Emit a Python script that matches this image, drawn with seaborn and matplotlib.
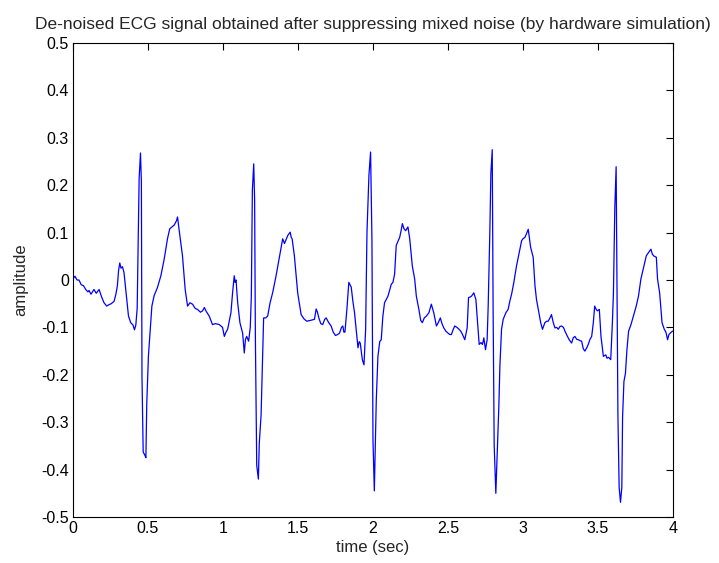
import numpy as np
import pandas as pd
import matplotlib
matplotlib.use("Agg")
import matplotlib.pyplot as plt
import seaborn as sns

# values (time in sec, amplitude)
time_sec = [
    0.000, 0.013, 0.027, 0.040, 0.055, 0.070, 0.085, 0.100, 0.107, 0.120,
    0.140, 0.155, 0.174, 0.190, 0.207, 0.225, 0.240, 0.255, 0.274, 0.286,
    0.296, 0.304, 0.312, 0.320, 0.330, 0.340, 0.355, 0.370, 0.385, 0.400,
    0.410, 0.419, 0.428, 0.434, 0.441, 0.450, 0.456, 0.460, 0.468, 0.480,
    0.486, 0.492, 0.503, 0.512, 0.526, 0.541, 0.563, 0.586, 0.608, 0.630,
    0.645, 0.660, 0.675, 0.690, 0.697, 0.708, 0.730, 0.748, 0.764, 0.780,
    0.797, 0.815, 0.830, 0.850, 0.864, 0.876, 0.886, 0.908, 0.930, 0.950,
    0.975, 0.997, 1.009, 1.020, 1.031, 1.053, 1.064, 1.075, 1.081, 1.087,
    1.098, 1.113, 1.131, 1.142, 1.150, 1.158, 1.171, 1.182, 1.189, 1.196,
    1.205, 1.211, 1.216, 1.225, 1.236, 1.242, 1.254, 1.265, 1.271, 1.285,
    1.298, 1.314, 1.331, 1.354, 1.376, 1.398, 1.410, 1.420, 1.432, 1.448,
    1.455, 1.461, 1.476, 1.498, 1.521, 1.540, 1.559, 1.585, 1.610, 1.621,
    1.630, 1.639, 1.652, 1.665, 1.678, 1.688, 1.705, 1.721, 1.735, 1.750,
    1.765, 1.777, 1.790, 1.799, 1.806, 1.813, 1.826, 1.839, 1.847, 1.855,
    1.866, 1.877, 1.890, 1.900, 1.908, 1.915, 1.922, 1.929, 1.940, 1.951,
    1.960, 1.973, 1.984, 1.993, 2.000, 2.009, 2.022, 2.033, 2.045, 2.055,
    2.066, 2.077, 2.090, 2.100, 2.112, 2.122, 2.133, 2.144, 2.155, 2.167,
    2.178, 2.188, 2.196, 2.207, 2.218, 2.233, 2.245, 2.262, 2.278, 2.289,
    2.306, 2.318, 2.329, 2.342, 2.356, 2.373, 2.389, 2.405, 2.423, 2.435,
    2.449, 2.460, 2.472, 2.486, 2.500, 2.512, 2.523, 2.534, 2.545, 2.560,
    2.574, 2.585, 2.597, 2.612, 2.628, 2.637, 2.647, 2.657, 2.672, 2.686,
    2.694, 2.708, 2.720, 2.730, 2.739, 2.750, 2.761, 2.768, 2.779, 2.786,
    2.795, 2.801, 2.808, 2.819, 2.830, 2.839, 2.846, 2.857, 2.868, 2.886,
    2.901, 2.912, 2.924, 2.939, 2.957, 2.975, 2.991, 3.000, 3.013, 3.024,
    3.035, 3.051, 3.068, 3.080, 3.090, 3.104, 3.118, 3.130, 3.146, 3.158,
    3.168, 3.180, 3.190, 3.202, 3.213, 3.225, 3.235, 3.247, 3.257, 3.270,
    3.280, 3.295, 3.308, 3.324, 3.335, 3.346, 3.358, 3.369, 3.380, 3.391,
    3.402, 3.413, 3.425, 3.435, 3.447, 3.458, 3.469, 3.478, 3.488, 3.496,
    3.509, 3.520, 3.536, 3.552, 3.560, 3.570, 3.585, 3.596, 3.603, 3.612,
    3.621, 3.626, 3.633, 3.641, 3.650, 3.659, 3.664, 3.673, 3.683, 3.693,
    3.704, 3.720, 3.736, 3.755, 3.770, 3.786, 3.804, 3.822, 3.837, 3.853,
    3.862, 3.871, 3.889, 3.897, 3.911, 3.927, 3.942, 3.953, 3.964, 3.973,
    3.982, 3.996, 4.000,
]
amplitude = [
    0.002, 0.008, 0.000, 0.000, -0.010, -0.012, -0.020, -0.025, -0.022, -0.030,
    -0.020, -0.028, -0.020, -0.035, -0.048, -0.055, -0.052, -0.050, -0.045, -0.030,
    -0.012, 0.020, 0.036, 0.025, 0.028, 0.016, -0.030, -0.076, -0.090, -0.095,
    -0.105, -0.095, -0.060, 0.069, 0.214, 0.268, 0.207, -0.203, -0.363, -0.370,
    -0.375, -0.260, -0.160, -0.118, -0.055, -0.033, -0.016, 0.009, 0.044, 0.087,
    0.108, 0.112, 0.116, 0.125, 0.133, 0.105, 0.051, -0.020, -0.055, -0.048,
    -0.051, -0.060, -0.062, -0.068, -0.065, -0.058, -0.065, -0.076, -0.094, -0.092,
    -0.094, -0.100, -0.119, -0.110, -0.104, -0.069, -0.027, 0.009, -0.005, 0.000,
    -0.048, -0.090, -0.112, -0.154, -0.125, -0.119, -0.129, -0.100, -0.034, 0.190,
    0.245, 0.168, -0.122, -0.391, -0.420, -0.345, -0.285, -0.147, -0.080, -0.080,
    -0.076, -0.048, -0.027, 0.009, 0.048, 0.087, 0.077, 0.085, 0.094, 0.101,
    0.090, 0.087, 0.051, -0.027, -0.073, -0.082, -0.087, -0.085, -0.083, -0.061,
    -0.068, -0.080, -0.092, -0.094, -0.083, -0.080, -0.090, -0.097, -0.110, -0.117,
    -0.115, -0.112, -0.100, -0.097, -0.110, -0.110, -0.062, -0.005, -0.010, -0.015,
    -0.045, -0.069, -0.110, -0.143, -0.130, -0.133, -0.150, -0.168, -0.179, -0.104,
    0.101, 0.221, 0.270, 0.087, -0.338, -0.445, -0.253, -0.161, -0.130, -0.126,
    -0.076, -0.048, -0.040, -0.034, -0.020, -0.009, -0.005, 0.012, 0.073, 0.082,
    0.090, 0.105, 0.119, 0.108, 0.104, 0.112, 0.087, 0.030, 0.002, -0.034,
    -0.062, -0.085, -0.090, -0.080, -0.076, -0.069, -0.051, -0.069, -0.097, -0.090,
    -0.080, -0.092, -0.101, -0.108, -0.112, -0.115, -0.115, -0.105, -0.097, -0.100,
    -0.104, -0.108, -0.115, -0.126, -0.101, -0.037, -0.036, -0.034, -0.027, -0.041,
    -0.076, -0.136, -0.132, -0.136, -0.122, -0.147, -0.126, -0.055, 0.101, 0.225,
    0.275, -0.069, -0.349, -0.450, -0.349, -0.267, -0.182, -0.104, -0.083, -0.069,
    -0.062, -0.045, -0.030, -0.005, 0.030, 0.058, 0.083, 0.087, 0.090, 0.098,
    0.107, 0.069, 0.048, -0.012, -0.041, -0.065, -0.090, -0.104, -0.090, -0.087,
    -0.087, -0.080, -0.073, -0.090, -0.101, -0.100, -0.104, -0.098, -0.097, -0.100,
    -0.108, -0.118, -0.126, -0.133, -0.122, -0.119, -0.125, -0.126, -0.128, -0.129,
    -0.145, -0.150, -0.143, -0.136, -0.125, -0.119, -0.090, -0.055, -0.062, -0.065,
    -0.062, -0.119, -0.161, -0.158, -0.165, -0.163, -0.168, -0.090, -0.027, 0.150,
    0.239, 0.012, -0.289, -0.437, -0.469, -0.437, -0.289, -0.214, -0.197, -0.147,
    -0.108, -0.094, -0.076, -0.055, -0.034, 0.002, 0.027, 0.051, 0.058, 0.065,
    0.055, 0.051, 0.048, 0.002, -0.027, -0.090, -0.104, -0.110, -0.126, -0.115,
    -0.112, -0.108, -0.108,
]

x_ticks = [0, 0.5, 1, 1.5, 2, 2.5, 3, 3.5, 4]
y_ticks = [-0.5, -0.4, -0.3, -0.2, -0.1, 0, 0.1, 0.2, 0.3, 0.4, 0.5]

df = pd.DataFrame({"time": time_sec, "amp": amplitude})

sns.set_style("white")
plt.rcParams["font.family"] = ["Liberation Sans", "DejaVu Sans"]
plt.rcParams["xtick.direction"] = "in"
plt.rcParams["ytick.direction"] = "in"

fig = plt.figure(figsize=(7.19, 5.63), dpi=100)
ax = fig.add_axes([0.1015, 0.0817, 0.8345, 0.8419])

sns.lineplot(data=df, x="time", y="amp", ax=ax, sort=False, estimator=None,
             color="#0000ff", linewidth=0.9)

ax.set_xlim(0, 4)
ax.set_ylim(-0.5, 0.5)
ax.set_xticks(x_ticks)
ax.set_yticks(y_ticks)
ax.set_xticklabels([f"{v:g}" for v in x_ticks])
ax.set_yticklabels([f"{v:g}" for v in y_ticks])
ax.tick_params(axis="both", which="both", direction="in", length=5, width=0.8,
               top=True, right=True, labelsize=11.5, colors="black", pad=3)
for s in ax.spines.values():
    s.set_visible(True)
    s.set_color("black")
    s.set_linewidth(0.8)

ax.set_xlabel("time (sec)", fontsize=12, labelpad=3)
ax.set_ylabel("amplitude", fontsize=12, labelpad=9)
ax.set_title("De-noised ECG signal obtained after suppressing mixed noise (by hardware simulation)",
             fontsize=12.5, pad=10)

fig.savefig("out.png", dpi=100)
